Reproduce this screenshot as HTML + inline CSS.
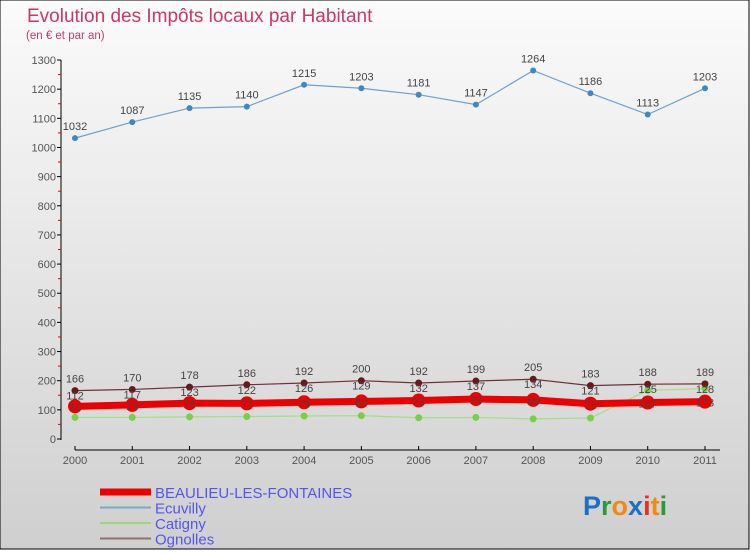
<!DOCTYPE html>
<html><head><meta charset="utf-8"><style>
body{margin:0}
svg text{font-family:"Liberation Sans",sans-serif}
</style></head><body>
<svg width="750" height="550" xmlns="http://www.w3.org/2000/svg">
<defs><linearGradient id="bg" x1="0" y1="0" x2="0" y2="1"><stop offset="0" stop-color="#fbfbfb"/><stop offset="1" stop-color="#cfcfcf"/></linearGradient></defs>
<rect x="0" y="0" width="749" height="549" fill="url(#bg)" stroke="#000" stroke-width="1"/>
<text x="27" y="22" font-size="19" fill="#c8386a">Evolution des Impôts locaux par Habitant</text>
<text x="26" y="39" font-size="11.5" fill="#c8386a">(en € et par an)</text>
<g id="axes"></g>
<g id="series"></g>
<g id="legend"></g>
<text x="583" y="515" font-size="27" font-weight="bold" fill="#1a6fc8"><tspan fill="#1a6fc8">P</tspan><tspan fill="#2a9a3a">r</tspan><tspan fill="#f08a10">o</tspan><tspan fill="#1a6fc8">x</tspan><tspan fill="#e8301a">i</tspan><tspan fill="#f08a10">t</tspan><tspan fill="#2a9a3a">i</tspan></text>
</svg>
<script>
const years=[2000,2001,2002,2003,2004,2005,2006,2007,2008,2009,2010,2011];
const beaulieu=[112,117,123,122,126,129,132,137,134,121,125,128];
const ecuvilly=[1032,1087,1135,1140,1215,1203,1181,1147,1264,1186,1113,1203];
const catigny=[74,74,76,77,79,80,73,74,69,72,167,173];
const ognolles=[166,170,178,186,192,200,192,199,205,183,188,189];
const yTicks=[0,100,200,300,400,500,600,700,800,900,1000,1100,1200,1300];
const NS='http://www.w3.org/2000/svg';
const X=i=>75+i*(630/11);
const Y=v=>439-v*(379/1300);
function mk(tag,at,parent,txt){const e=document.createElementNS(NS,tag);for(const k in at)e.setAttribute(k,at[k]);if(txt!==undefined)e.textContent=txt;parent.appendChild(e);return e;}
const ax=document.getElementById('axes');
let l=mk('line',{x1:61,y1:60,x2:61,y2:440,stroke:'#000'},ax);


yTicks.forEach(v=>{
  mk('line',{x1:57,y1:Y(v),x2:61,y2:Y(v),stroke:'#000'},ax);
  if(v<1300){mk('line',{x1:58,y1:Y(v+50),x2:61,y2:Y(v+50),stroke:'#e00'},ax);}
  const t=mk('text',{x:56,y:Y(v)+4,'font-size':11,fill:'#555','text-anchor':'end'},ax,v);
  
  
});
l=mk('line',{x1:75,y1:450,x2:720,y2:450,stroke:'#000'},ax);


years.forEach((y,i)=>{
  mk('line',{x1:X(i),y1:446,x2:X(i),y2:450,stroke:'#000'},ax);
  const t=mk('text',{x:X(i),y:464,'font-size':11,fill:'#555','text-anchor':'middle'},ax,y);
  
  
});
const sg=document.getElementById('series');
function series(name,data,color,w,r,fill,labelDy){
  const g=mk('g',{},sg);
  
  
  const p=mk('polyline',{points:data.map((v,i)=>X(i)+','+Y(v)).join(' '),fill:'none',stroke:color,'stroke-width':w},g);
  
  
  data.forEach((v,i)=>{
    const c=mk('circle',{cx:X(i),cy:Y(v),r:r,fill:fill},g);
    
    
    if(labelDy!==null){
      const t=mk('text',{x:X(i),y:Y(v)+labelDy,'font-size':11,fill:'#444','text-anchor':'middle'},g,v);
      
      
    }
  });
}
series('ecuvilly',ecuvilly,'#6fa0d0',1.2,3,'#3a8ac8',-8);
series('catigny',catigny,'#a0e080',1.2,3.5,'#78d048',null);
series('beaulieu',beaulieu,'#ee0000',7,7,'#ee0000',null);
series('ognolles',ognolles,'#703038',1.2,3.5,'#6a1820',-8);
beaulieu.forEach((v,i)=>{const t=mk('text',{x:X(i),y:Y(ognolles[i])+9,'font-size':11,fill:'#444','text-anchor':'middle'},sg,v);

});
catigny.forEach((v,i)=>{const t=mk('text',{x:X(i),y:Y(beaulieu[i])+5,'font-size':11,fill:'#444','text-anchor':'middle'},sg,v);

});
const lg=document.getElementById('legend');
const leg=[['BEAULIEU-LES-FONTAINES','#ee0000',7],['Ecuvilly','#7aa8c8',2],['Catigny','#98d878',2],['Ognolles','#907070',2]];
leg.forEach((e,i)=>{
  const y=492+i*15.5;
  const g=mk('g',{},lg);
  
  
  mk('line',{x1:100,y1:y,x2:151,y2:y,stroke:e[1],'stroke-width':e[2]},g);
  mk('text',{x:155,y:y+6,'font-size':15,fill:'#5555ee'},g,e[0]);
});
</script>
</body></html>
